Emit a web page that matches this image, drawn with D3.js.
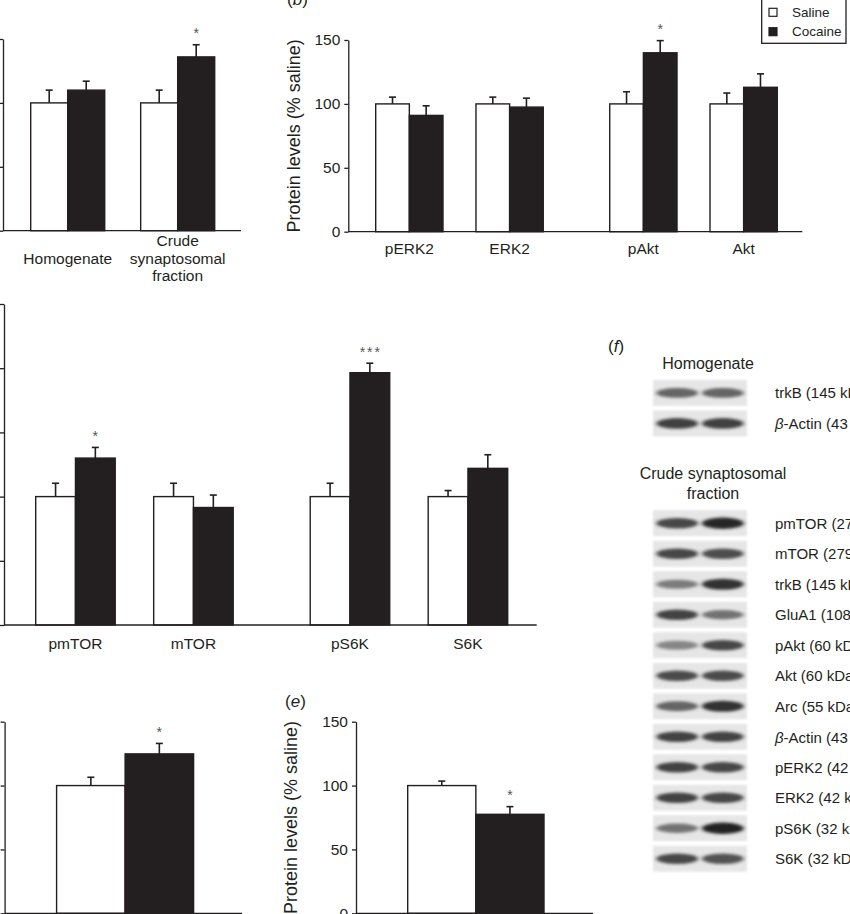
<!DOCTYPE html>
<html><head><meta charset="utf-8">
<script src="https://cdn.jsdelivr.net/npm/d3@7"></script>
<style>
body{margin:0;background:#fff;}
svg{display:block;}
text{font-family:"Liberation Sans",Arial,Helvetica,sans-serif;fill:#231f20;}
</style>
</head><body>
<svg id="fig" width="850" height="914"></svg>
<script>
// ---------------- DATA ----------------
const seriesNames = ["Saline", "Cocaine"];
const ticks150 = [0, 50, 100, 150];
const ticks250 = [0, 50, 100, 150, 200, 250];
const yAxisTitle = "Protein levels (% saline)";

// Panel (a)
const clustersA = [["Homogenate"], ["Crude\nsynaptosomal\nfraction"]];
const salineA = [100, 100];
const salineErrA = [10, 10];
const cocaineA = [110, 136];
const cocaineErrA = [7, 9.5];
const sigA = ["", "*"];

// Panel (b)
const clustersB = [["pERK2", "ERK2"], ["pAkt", "Akt"]];
const salineB = [100, 100, 100, 100];
const salineErrB = [5.3, 5.3, 9.5, 8.5];
const cocaineB = [91, 97.5, 140, 113];
const cocaineErrB = [7.5, 7, 9.5, 10.5];
const sigB = ["", "", "*", ""];

// Panel (c)
const clustersC = [["pmTOR", "mTOR"], ["pS6K", "S6K"]];
const salineC = [100, 100, 100, 100];
const salineErrC = [10.4, 10.4, 10.4, 4.7];
const cocaineC = [130, 91.5, 196.5, 122];
const cocaineErrC = [8.3, 9.7, 7.4, 10.6];
const sigC = ["*", "", "***", ""];

// Panel (d)
const clustersD = [[""]];
const salineD = [100];
const salineErrD = [6.5];
const cocaineD = [124.8];
const cocaineErrD = [8.2];
const sigD = ["*"];

// Panel (e)
const clustersE = [[""]];
const salineE = [100];
const salineErrE = [3.5];
const cocaineE = [77.5];
const cocaineErrE = [6];
const sigE = ["*"];

// Panel (f) western blots (relative band darkness, lane 1 = saline, lane 2 = cocaine)
const homogLabels = ["trkB (145 kDa)", "β-Actin (43 kDa)"];
const homogBands = [[0.62, 0.62], [0.82, 0.82]];
const crudeLabels = ["pmTOR (279 kDa)", "mTOR (279 kDa)", "trkB (145 kDa)", "GluA1 (108 kDa)",
  "pAkt (60 kDa)", "Akt (60 kDa)", "Arc (55 kDa)", "β-Actin (43 kDa)",
  "pERK2 (42 kDa)", "ERK2 (42 kDa)", "pS6K (32 kDa)", "S6K (32 kDa)"];
const crudeBands = [[0.78, 0.95], [0.78, 0.74], [0.5, 0.88], [0.8, 0.55], [0.45, 0.78], [0.75, 0.75],
  [0.62, 0.88], [0.8, 0.8], [0.8, 0.78], [0.8, 0.78], [0.55, 0.98], [0.78, 0.72]];

// ---------------- DRAWING ----------------
const svg = d3.select("#fig");
const INK = "#231f20";

const defs = svg.append("defs");
defs.append("filter").attr("id", "blur").attr("x", "-30%").attr("y", "-80%").attr("width", "160%").attr("height", "260%")
  .append("feGaussianBlur").attr("stdDeviation", "2.2 1.6");
defs.append("filter").attr("id", "blurBg").append("feGaussianBlur").attr("stdDeviation", 0.8);

function panelLabel(x, y, letter) {
  const t = svg.append("text").attr("x", x).attr("y", y).style("font-size", "17px");
  t.append("tspan").text("(");
  t.append("tspan").style("font-style", "italic").text(letter);
  t.append("tspan").text(")");
}

function barPanel(cfg) {
  const g = svg.append("g");
  const y = d3.scaleLinear().domain([0, cfg.yMax]).range([cfg.yBase, cfg.yTop]);
  const outer = d3.scaleBand().domain(d3.range(cfg.clusters.length))
    .range([cfg.xL, cfg.xR]).paddingInner(cfg.clusterPad).paddingOuter(0);
  const inner = d3.scaleBand().domain(d3.range(cfg.clusters[0].length))
    .range([0, outer.bandwidth()]).paddingInner(cfg.groupPad).paddingOuter(0);
  const sub = d3.scaleBand().domain(seriesNames).range([0, inner.bandwidth()]);

  const rows = [];
  let k = 0;
  cfg.clusters.forEach((cl, ci) => cl.forEach((cat, gi) => {
    const gx = outer(ci) + inner(gi);
    rows.push({cat, gx, i: k,
      vals: [[cfg.saline[k], cfg.salineErr[k]], [cfg.cocaine[k], cfg.cocaineErr[k]]],
      sig: cfg.sig[k]});
    k++;
  }));

  // y axis
  const ax = d3.axisLeft(y).tickValues(cfg.ticks).tickSize(4).tickSizeOuter(0).tickPadding(4);
  if (!cfg.tickLabels) ax.tickFormat("");
  const axg = g.append("g").attr("transform", `translate(${cfg.axisX},0)`).call(ax);
  axg.select(".domain").attr("stroke", INK).attr("stroke-width", 1.3);
  axg.selectAll(".tick line").attr("stroke", INK).attr("stroke-width", 1.3);
  axg.selectAll(".tick text").style("font-size", "15.5px").attr("fill", INK)
    .style("font-family", '"Liberation Sans",Arial,sans-serif');

  if (cfg.title) {
    g.append("text").attr("transform", `translate(${cfg.titleX},${(y(0) + y(cfg.yMax)) / 2}) rotate(-90)`)
      .attr("text-anchor", "middle").attr("dominant-baseline", "central")
      .style("font-size", "18px").text(yAxisTitle);
  }

  // bars
  rows.forEach(r => {
    r.vals.forEach(([v, e], si) => {
      const bx = r.gx + sub(seriesNames[si]);
      const bw = sub.bandwidth();
      const cx = bx + bw / 2;
      g.append("rect").attr("x", bx).attr("y", y(v)).attr("width", bw).attr("height", y(0) - y(v))
        .attr("fill", si === 0 ? "#fff" : INK).attr("stroke", INK).attr("stroke-width", 1.4);
      g.append("line").attr("x1", cx).attr("x2", cx).attr("y1", y(v)).attr("y2", y(v + e))
        .attr("stroke", INK).attr("stroke-width", 1.6);
      g.append("line").attr("x1", cx - 3.5).attr("x2", cx + 3.5).attr("y1", y(v + e)).attr("y2", y(v + e))
        .attr("stroke", INK).attr("stroke-width", 1.6);
      if (si === 1 && r.sig) {
        g.append("text").attr("x", cx + (r.sig.length > 1 ? 1 : 0)).attr("y", y(v + e) - 6.5)
          .attr("text-anchor", "middle").style("font-size", "14px").style("letter-spacing", r.sig.length > 1 ? "2px" : "0")
          .style("fill", "#555").text(r.sig);
      }
    });
    // category label
    if (r.cat) {
      const lines = r.cat.split("\n");
      const lh = 17.3;
      const t = g.append("text").attr("text-anchor", "middle").style("font-size", "15.5px");
      lines.forEach((ln, li) => {
        t.append("tspan").attr("x", r.gx + inner.bandwidth() / 2)
          .attr("y", cfg.labelY + (li - (lines.length - 1) / 2) * lh)
          .attr("dominant-baseline", "central").text(ln);
      });
    }
  });

  // x baseline
  g.append("line").attr("x1", cfg.axisX).attr("x2", cfg.baseEnd).attr("y1", y(0)).attr("y2", y(0))
    .attr("stroke", INK).attr("stroke-width", 1.3);
}

barPanel({clusters: clustersA, saline: salineA, salineErr: salineErrA, cocaine: cocaineA, cocaineErr: cocaineErrA, sig: sigA,
  yMax: 150, yBase: 230.7, yTop: 39, ticks: ticks150, tickLabels: false, axisX: 3, baseEnd: 241,
  xL: 30.7, xR: 214.7, clusterPad: 0.327, groupPad: 0, labelY: 258});

barPanel({clusters: clustersB, saline: salineB, salineErr: salineErrB, cocaine: cocaineB, cocaineErr: cocaineErrB, sig: sigB,
  yMax: 150, yBase: 231.7, yTop: 40, ticks: ticks150, tickLabels: true, title: true, titleX: 294, axisX: 348.3, baseEnd: 802.3,
  xL: 375.7, xR: 777.3, clusterPad: 0.284, groupPad: 0.329, labelY: 248});

barPanel({clusters: clustersC, saline: salineC, salineErr: salineErrC, cocaine: cocaineC, cocaineErr: cocaineErrC, sig: sigC,
  yMax: 250, yBase: 625, yTop: 304, ticks: ticks250, tickLabels: false, axisX: 4, baseEnd: 536.7,
  xL: 35.7, xR: 507.7, clusterPad: 0.2805, groupPad: 0.326, labelY: 643});

barPanel({clusters: clustersD, saline: salineD, salineErr: salineErrD, cocaine: cocaineD, cocaineErr: cocaineErrD, sig: sigD,
  yMax: 150, yBase: 913.3, yTop: 721.7, ticks: ticks150, tickLabels: false, axisX: 4.6, baseEnd: 242,
  xL: 56.6, xR: 193.6, clusterPad: 0, groupPad: 0, labelY: 935});

barPanel({clusters: clustersE, saline: salineE, salineErr: salineErrE, cocaine: cocaineE, cocaineErr: cocaineErrE, sig: sigE,
  yMax: 150, yBase: 913.3, yTop: 721.7, ticks: ticks150, tickLabels: true, title: true, titleX: 291, axisX: 356, baseEnd: 593,
  xL: 407.7, xR: 544, clusterPad: 0, groupPad: 0, labelY: 935});

panelLabel(287, 5, "b");
panelLabel(285, 707, "e");
panelLabel(608, 352, "f");

// Legend
const lg = svg.append("g");
lg.append("rect").attr("x", 761.7).attr("y", -2).attr("width", 84.3).attr("height", 45.3)
  .attr("fill", "#fff").attr("stroke", INK).attr("stroke-width", 1.3);
const legY = d3.scalePoint().domain(seriesNames).range([12.3, 31.7]);
seriesNames.forEach((s, i) => {
  lg.append("rect").attr("x", 769).attr("y", legY(s) - 4).attr("width", 8).attr("height", 8)
    .attr("fill", i === 0 ? "#fff" : INK).attr("stroke", INK).attr("stroke-width", 1.2);
  lg.append("text").attr("x", 792).attr("y", legY(s)).attr("dominant-baseline", "central")
    .style("font-size", "13.5px").text(s);
});

// Panel (f) blots
const laneX = d3.scaleBand().domain([0, 1]).range([653, 747]).paddingInner(0.04).paddingOuter(0.05);
const bandColor = d3.interpolateRgb("#dcdcdc", "#1c1c1c");

function blotGroup(labels, bands, range) {
  const ry = d3.scaleBand().domain(labels).range(range).paddingInner(0.15).paddingOuter(0.075);
  labels.forEach((lab, i) => {
    const y0 = ry(lab), h = ry.bandwidth(), cy = y0 + h / 2;
    svg.append("rect").attr("x", 653).attr("y", y0).attr("width", 94).attr("height", h)
      .attr("fill", "#e6e6e6").attr("filter", "url(#blurBg)");
    bands[i].forEach((v, li) => {
      svg.append("ellipse").attr("cx", laneX(li) + laneX.bandwidth() / 2).attr("cy", cy)
        .attr("rx", laneX.bandwidth() / 2 - 1).attr("ry", 3.4 + v * 2.4)
        .attr("fill", bandColor(v)).attr("filter", "url(#blur)");
    });
    const t = svg.append("text").attr("x", 775).attr("y", cy).attr("dominant-baseline", "central")
      .style("font-size", "15px");
    if (lab.startsWith("β")) {
      t.append("tspan").style("font-style", "italic").text("β");
      t.append("tspan").text(lab.slice(1));
    } else t.text(lab);
  });
}

svg.append("text").attr("x", 708).attr("y", 363.3).attr("text-anchor", "middle")
  .attr("dominant-baseline", "central").style("font-size", "16px").text("Homogenate");
blotGroup(homogLabels, homogBands, [377.7, 438.7]);

const ct = svg.append("text").attr("text-anchor", "middle").style("font-size", "16px");
["Crude synaptosomal", "fraction"].forEach((ln, i) => {
  ct.append("tspan").attr("x", 713).attr("y", 473.3 + i * 20).attr("dominant-baseline", "central").text(ln);
});
blotGroup(crudeLabels, crudeBands, [508, 874]);
</script>
</body></html>
